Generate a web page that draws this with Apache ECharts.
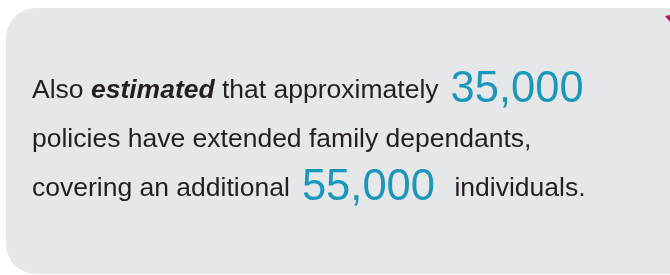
<!DOCTYPE html>
<html>
<head>
<meta charset="utf-8">
<script src="https://cdn.jsdelivr.net/npm/echarts@6/dist/echarts.min.js"></script>
<style>
  html, body { margin: 0; padding: 0; background: #fff; }
  #chart { width: 670px; height: 275px; }
</style>
</head>
<body>
<div id="chart"></div>
<script>
// text segments per line: [style, text]
const line1 = [['t', 'Also '], ['b', 'estimated'], ['t', ' that approximately'], ['n', ' 35,000']];
const line2 = [['t', 'policies have extended family dependants,']];
const line3 = [['t', 'covering an additional'], ['n', ' 55,000 '], ['t', ' individuals.']];
const lines = [line1, line2, line3];

const chart = echarts.init(document.getElementById('chart'));

const FONT = '"Liberation Sans", Arial, sans-serif';
const styles = {
  t: { size: 26.5, weight: 'normal', style: 'normal', fill: '#231f20' },
  b: { size: 26.5, weight: 'bold', style: 'italic', fill: '#231f20' },
  n: { size: 43.5, weight: 'normal', style: 'normal', fill: '#1b97bc' }
};
// baselines of each line and the offset of the big numbers
const baseY = [100, 149, 198];
const numDrop = 5;
const startX = 32;

const ctx = document.createElement('canvas').getContext('2d');
function measure(st, txt) {
  ctx.font = st.style + ' ' + st.weight + ' ' + st.size + 'px ' + FONT;
  return ctx.measureText(txt).width;
}

const textEls = [];
lines.forEach((segs, i) => {
  let x = startX;
  segs.forEach(([k, txt]) => {
    const st = styles[k];
    const base = baseY[i] + (k === 'n' ? numDrop : 0);
    textEls.push({
      type: 'text',
      x: x,
      y: base - 0.3465 * st.size,
      style: {
        text: txt,
        font: st.style + ' ' + st.weight + ' ' + st.size + 'px ' + FONT,
        fill: st.fill,
        align: 'left',
        verticalAlign: 'middle'
      }
    });
    x += measure(st, txt);
  });
});

chart.setOption({
  animation: false,
  graphic: [
    {
      type: 'rect',
      shape: { x: 6, y: 8, width: 700, height: 266, r: 30 },
      style: { fill: '#e6e7e9' }
    },
    {
      type: 'polygon',
      shape: { points: [[665, 16], [670, 15], [670, 22]] },
      style: { fill: '#b3195a' }
    }
  ].concat(textEls)
});
</script>
</body>
</html>
